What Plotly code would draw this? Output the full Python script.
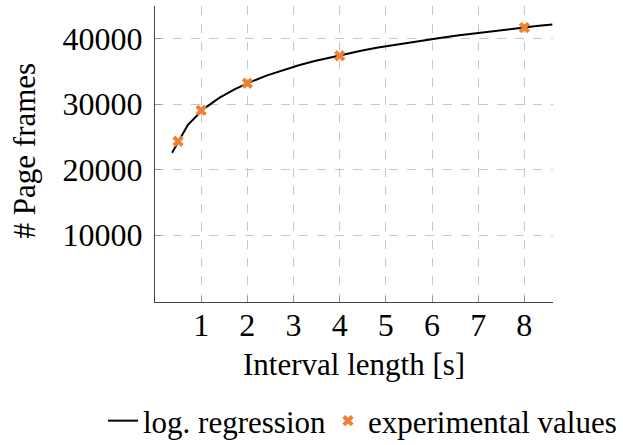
import plotly.graph_objects as go

# experimental measurements
exp_x = [0.5, 1, 2, 4, 8]
exp_y = [24350, 29050, 33200, 37400, 41700]

reg_x = [0.37, 0.713, 1.056, 1.399, 1.743, 2.086, 2.429, 2.772, 3.115, 3.459,
         3.802, 4.145, 4.488, 4.831, 5.175, 5.518, 5.861, 6.204, 6.547, 6.89,
         7.234, 7.577, 7.92, 8.263, 8.606]
reg_y = [22600, 26850, 29300, 31000, 32350, 33450, 34400, 35200, 35950, 36600,
         37150, 37700, 38200, 38650, 39050, 39450, 39800, 40150, 40500, 40800,
         41100, 41400, 41680, 41940, 42180]

x_ticks = [1, 2, 3, 4, 5, 6, 7, 8]
y_ticks = [10000, 20000, 30000, 40000]

FONT = "Liberation Serif, Times New Roman, serif"
FS = 31

fig = go.Figure()
fig.add_trace(go.Scatter(x=reg_x, y=reg_y, mode="lines", name="log. regression",
                         line=dict(color="black", width=2), legend="legend"))
fig.add_trace(go.Scatter(x=exp_x, y=exp_y, mode="markers", name="experimental values",
                         marker=dict(symbol="x", size=10, color="#EE8133",
                                     line=dict(width=0)), legend="legend2"))

axis_common = dict(showline=True, linecolor="#444", linewidth=1.2,
                   showgrid=True, gridcolor="#c8c8c8", griddash="dash", gridwidth=1,
                   ticks="inside", ticklen=6, tickcolor="#999", zeroline=False,
                   tickfont=dict(family=FONT, size=32, color="black"))

fig.update_xaxes(range=[0, 8.62], tickvals=x_ticks, ticktext=[str(v) for v in x_ticks],
                 ticklabelstandoff=-6, **axis_common)
fig.update_yaxes(range=[-200, 45000], tickvals=y_ticks, ticktext=[str(v) for v in y_ticks],
                 ticklabelstandoff=5, **axis_common)

fig.add_annotation(text="Interval length [s]", xref="paper", yref="paper",
                   x=0.5, y=-62 / 296, xanchor="center", yanchor="middle",
                   showarrow=False, font=dict(family=FONT, size=FS, color="black"))
fig.add_annotation(text="# Page frames", xref="paper", yref="paper",
                   x=-131 / 398, y=0.512, xanchor="center", yanchor="middle",
                   textangle=-90, showarrow=False,
                   font=dict(family=FONT, size=FS, color="black"))

leg_common = dict(orientation="h", xref="container", yref="container",
                  yanchor="middle", xanchor="left", y=1 - 421 / 445,
                  font=dict(family=FONT, size=FS, color="black"),
                  bgcolor="rgba(0,0,0,0)", borderwidth=0)

fig.update_layout(
    width=623, height=445,
    margin=dict(l=155, r=70, t=6, b=143, autoexpand=False),
    plot_bgcolor="white", paper_bgcolor="white",
    showlegend=True,
    legend=dict(x=103 / 623, **leg_common),
    legend2=dict(x=328 / 623, **leg_common),
)

fig.write_html("out.html")
